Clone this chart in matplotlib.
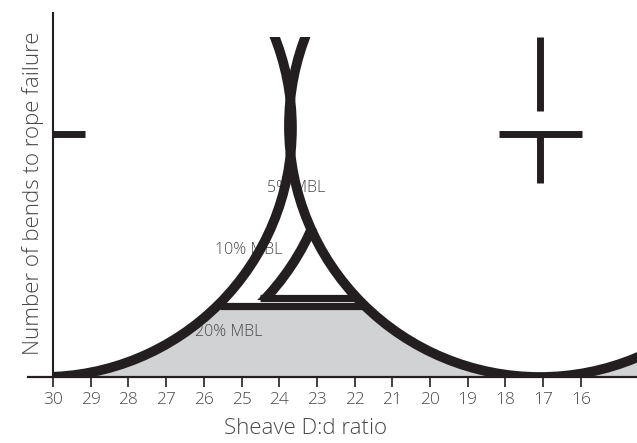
import matplotlib
matplotlib.use("Agg")
import matplotlib.pyplot as plt
from matplotlib.patches import Ellipse, Rectangle

plt.rcParams['font.family'] = ['Open Sans', 'DejaVu Sans']

# ---- data (D:d ratio on x, number of bends on an arbitrary 0-100 scale) ----
ratio_ticks = [30, 29, 28, 27, 26, 25, 24, 23, 22, 21, 20, 19, 18, 17, 16]
x_range = [30.0, 14.51]
y_range = [0.0, 100.0]

# bend-life curves (circular arcs): centre ratio, centre bends, half-width (ratio), half-height (bends)
curve_names = ["left", "right", "10% MBL"]
curve_cx = [30.265, 17.086, 29.178]
curve_cy = [73.24, 73.82, 73.24]
curve_rx = [6.603, 6.656, 6.603]
curve_ry = [73.24, 73.82, 73.24]
mbl10_bend_span = [22.6, 43.5]
mbl10_ratio_span = [25.2, 22.4]

# threshold lines
upper_y = 23.09
upper_x = [24.51, 21.94]
lower_y = 20.74
lower_x = [25.57, 21.70]

# labels
label_texts = ["5% MBL", "10% MBL", "20% MBL"]
label_x = [24.33, 25.70, 26.23]
label_y = [55.6, 37.35, 13.2]

# marks
stub_y = 71.5
stub_x = [30.0, 29.15]
cross_x = [18.17, 15.97]
cross_v_x = 17.09
cross_v_top = [100.0, 78.2]
cross_v_bottom = [71.5, 57.06]
axis_left_ext = 30.663
spine_top = 107.06

dark = '#231f20'
grey_fill = '#d1d2d4'
text_col = '#474747'
fw = 'light'

fig = plt.figure(figsize=(6.37, 4.43), dpi=100)
ax = fig.add_axes([53/637, 66/443, 584/637, 340/443])
ax.set_xlim(x_range)
ax.set_ylim(y_range)
for s in ax.spines.values():
    s.set_visible(False)

# grey region below the lower threshold
ax.fill_between(x_range, 0, lower_y, color=grey_fill, lw=0, zorder=1)

# white interiors of the two large curves
for i in range(2):
    ax.add_patch(Ellipse((curve_cx[i], curve_cy[i]), 2*curve_rx[i], 2*curve_ry[i],
                         facecolor='white', edgecolor='none', zorder=1.5))

# labels (below the strokes)
for t, x, y in zip(label_texts, label_x, label_y):
    ax.text(x, y, t, ha='left', va='center', fontsize=11.5, color=text_col,
            fontweight=fw, zorder=2)

# big curves
lw_curve = 7.0
for i in range(2):
    ax.add_patch(Ellipse((curve_cx[i], curve_cy[i]), 2*curve_rx[i], 2*curve_ry[i],
                         fill=False, edgecolor=dark, lw=lw_curve, zorder=3))

# 10% MBL curve segment
e = Ellipse((curve_cx[2], curve_cy[2]), 2*curve_rx[2], 2*curve_ry[2],
            fill=False, edgecolor=dark, lw=lw_curve, zorder=3)
ax.add_patch(e)
clip = Rectangle((mbl10_ratio_span[0], mbl10_bend_span[0]),
                 mbl10_ratio_span[1]-mbl10_ratio_span[0],
                 mbl10_bend_span[1]-mbl10_bend_span[0], transform=ax.transData)
e.set_clip_path(clip)

# threshold lines
ax.plot(upper_x, [upper_y, upper_y], color=dark, lw=5.2, solid_capstyle='butt', zorder=3)
ax.plot(lower_x, [lower_y, lower_y], color=dark, lw=5.2, solid_capstyle='butt', zorder=3)

# axes lines
ax.plot([axis_left_ext, x_range[1]], [0, 0], color=dark, lw=1.6, clip_on=False, zorder=4)
ax.plot([30, 30], [0, spine_top], color=dark, lw=1.5, clip_on=False, zorder=4)

# stub and cross marks
ax.plot(stub_x, [stub_y, stub_y], color=dark, lw=5.0, solid_capstyle='butt', zorder=4, clip_on=False)
ax.plot(cross_x, [stub_y, stub_y], color=dark, lw=5.0, solid_capstyle='butt', zorder=4)
ax.plot([cross_v_x, cross_v_x], cross_v_top, color=dark, lw=5.0, solid_capstyle='butt', zorder=4)
ax.plot([cross_v_x, cross_v_x], cross_v_bottom, color=dark, lw=5.0, solid_capstyle='butt', zorder=4)

ax.set_xticks(ratio_ticks)
ax.set_xticklabels([str(t) for t in ratio_ticks], fontweight=fw)
ax.set_yticks([])
ax.tick_params(axis='x', direction='out', length=7.5, width=1.2, color=dark,
               labelsize=12.5, labelcolor=text_col, pad=3)

fig.text(305/637, 1-428/443, "Sheave D:d ratio", ha='center', va='center',
         fontsize=16, color=text_col, fontweight=fw)
fig.text(33/637, 1-193/443, "Number of bends to rope failure", ha='center', va='center',
         rotation=90, fontsize=16, color=text_col, fontweight=fw)

fig.savefig('out.png', dpi=100)
